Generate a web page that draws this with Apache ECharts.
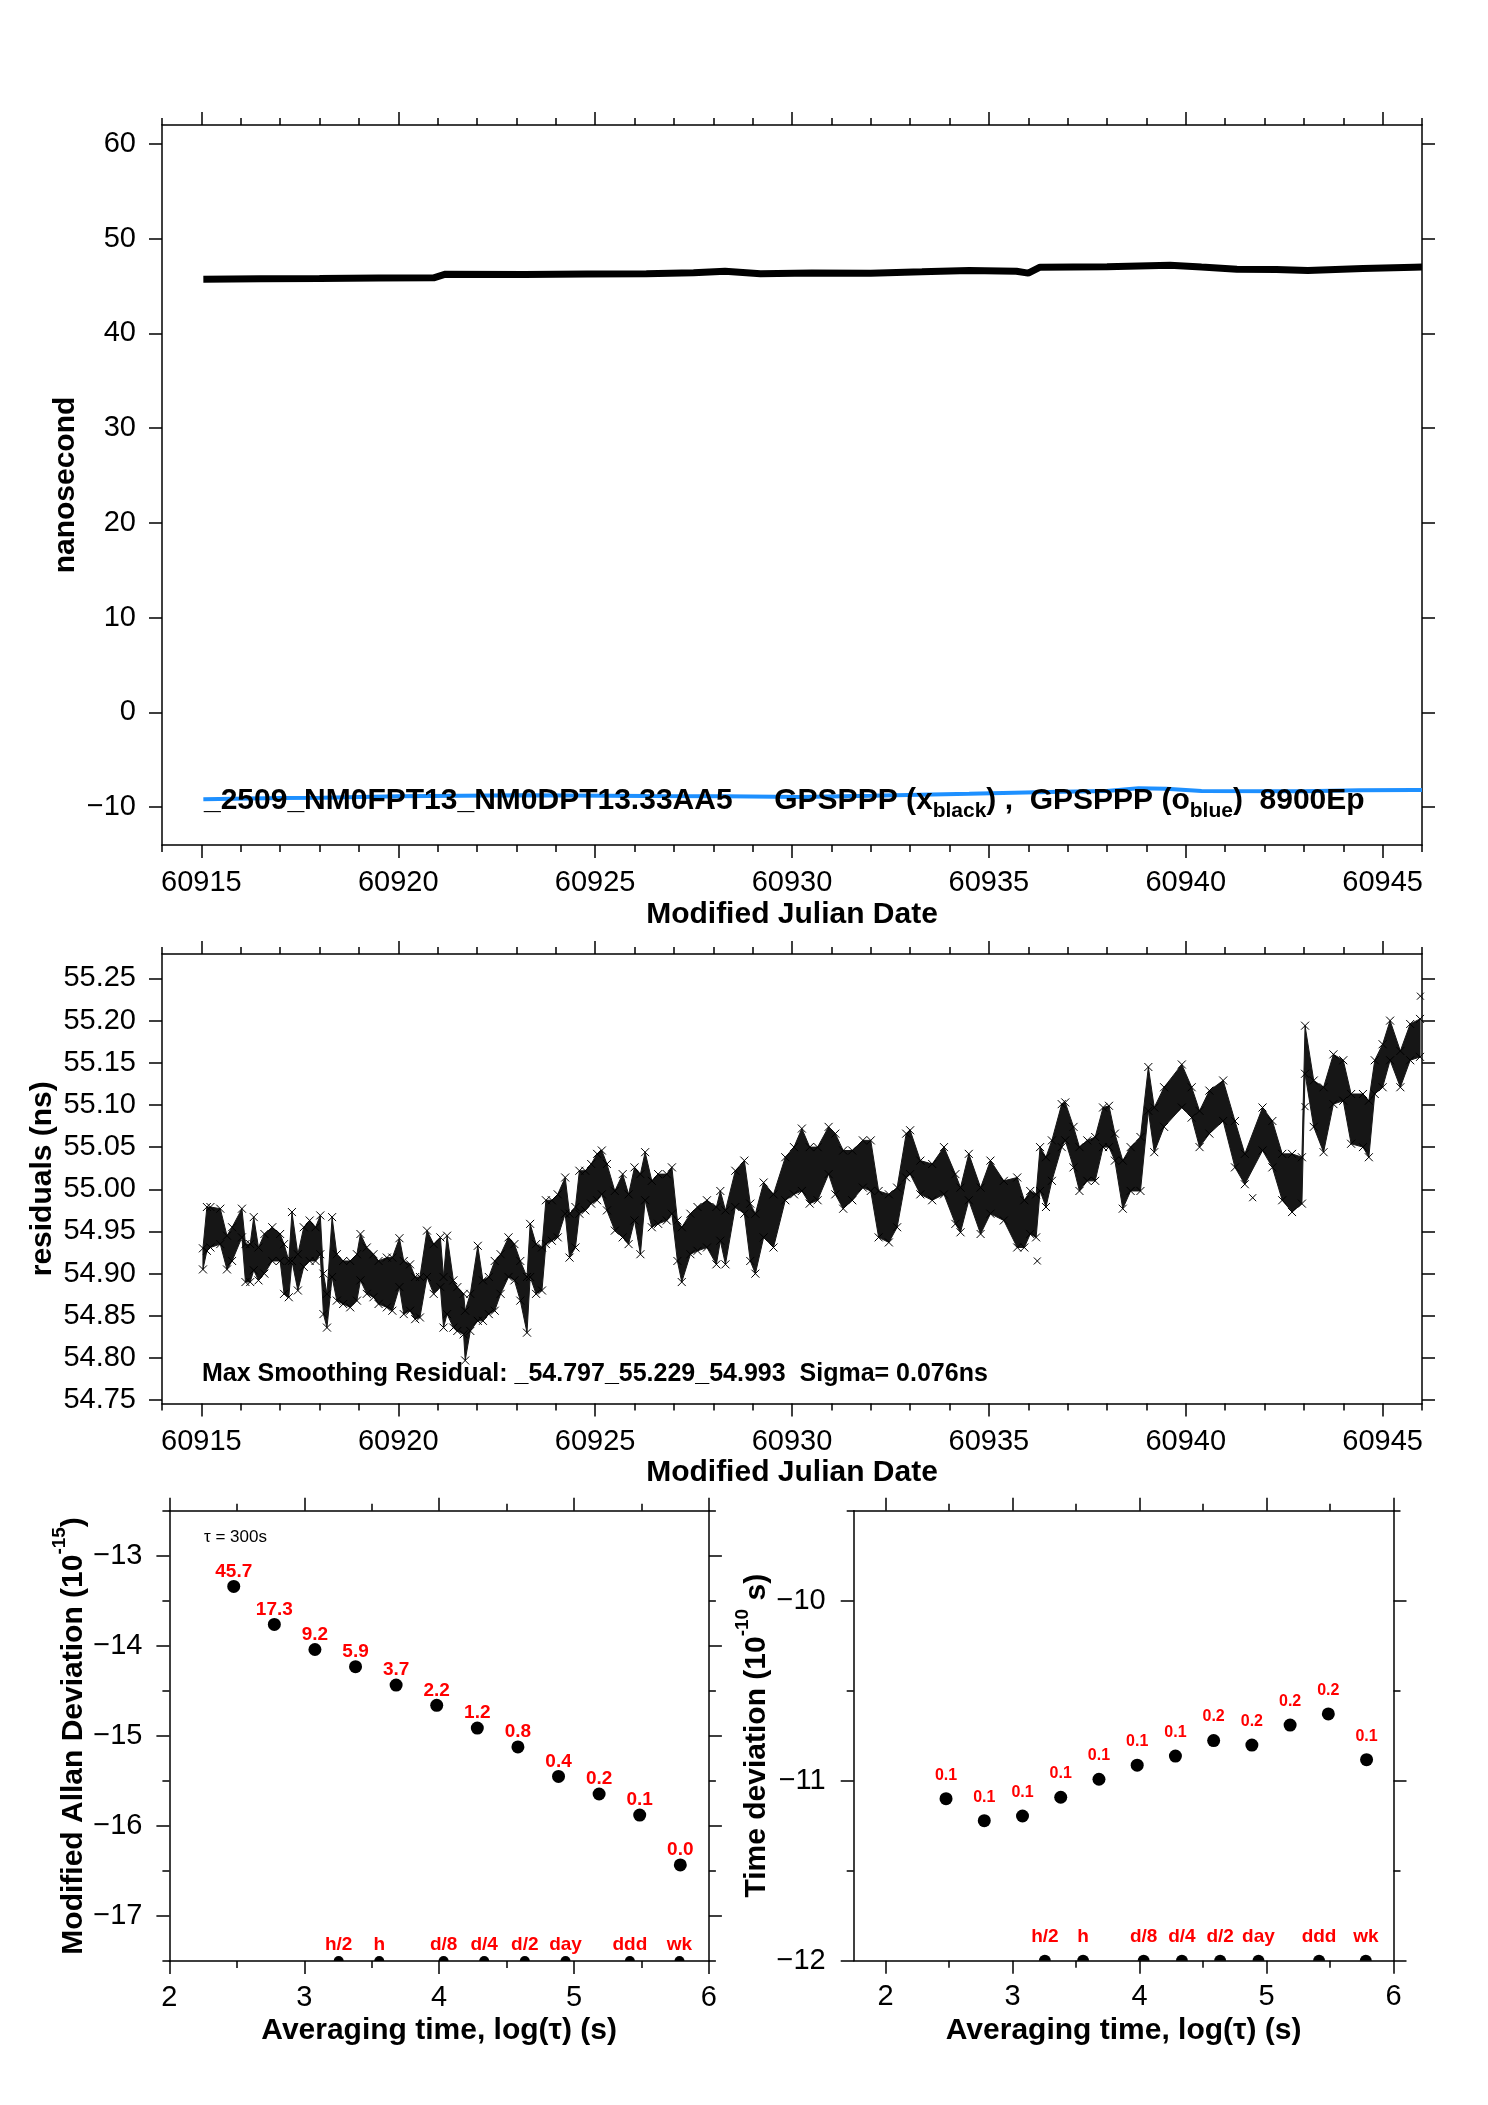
<!DOCTYPE html>
<html><head><meta charset="utf-8">
<script src="https://cdn.jsdelivr.net/npm/echarts@6/dist/echarts.min.js"></script>
<style>html,body{margin:0;padding:0;background:#fff}#c{width:1488px;height:2105px}</style>
</head><body><div id="c"></div>
<script>
const FONT = "'Liberation Sans', Helvetica, Arial, sans-serif";

// ---------- top panel: phase (ns) ----------
const blackMJD = [60915.05,60916.5,60918.0,60919.5,60920.9,60921.2,60923.2,60924.8,60926.3,60927.5,60928.3,60929.2,60930.5,60932.0,60933.3,60934.5,60935.7,60936.0,60936.3,60938.0,60939.6,60940.4,60941.3,60942.3,60943.1,60944.5,60945.8,60946.0];
const blackNs  = [45.72,45.76,45.80,45.85,45.87,46.25,46.22,46.27,46.29,46.40,46.57,46.29,46.38,46.36,46.50,46.64,46.57,46.36,46.99,47.05,47.20,47.00,46.78,46.75,46.64,46.85,46.99,47.00];
const blueMJD = [60915.05,60917.0,60918.1,60920.0,60923.2,60926.3,60928.3,60930.2,60932.0,60934.5,60936.5,60938.0,60938.8,60939.5,60940.4,60943.0,60944.4,60945.8,60946.0];
const blueNs  = [-9.18,-9.05,-9.00,-8.85,-8.76,-8.83,-8.85,-8.93,-8.80,-8.58,-8.40,-8.30,-8.00,-8.05,-8.30,-8.33,-8.23,-8.20,-8.20];
const topYTicks = [-10,0,10,20,30,40,50,60];
const mjdTicks = [60915,60920,60925,60930,60935,60940,60945];
const mjdMinorTicks = [60914,60916,60917,60918,60919,60921,60922,60923,60924,60926,60927,60928,60929,60931,60932,60933,60934,60936,60937,60938,60939,60941,60942,60943,60944,60946];

// ---------- middle panel: residuals (ns), band extent ----------
const resMJD = [
60915.04,60915.14,60915.23,60915.48,60915.65,60915.78,60916.03,60916.12,60916.24,60916.33,
60916.45,60916.60,60916.80,60917.00,60917.10,60917.22,60917.30,60917.45,60917.60,60917.75,
60917.90,60918.02,60918.10,60918.19,60918.32,60918.44,60918.60,60918.78,60918.95,60919.04,
60919.20,60919.37,60919.50,60919.71,60919.85,60920.03,60920.14,60920.30,60920.43,60920.55,
60920.73,60920.90,60921.07,60921.15,60921.24,60921.40,60921.50,60921.66,60921.70,60921.83,
60922.02,60922.15,60922.30,60922.45,60922.60,60922.80,60922.95,60923.10,60923.27,60923.35,
60923.50,60923.65,60923.75,60923.90,60924.05,60924.24,60924.35,60924.50,60924.60,60924.75,
60924.90,60925.05,60925.17,60925.30,60925.50,60925.70,60925.85,60926.00,60926.15,60926.27,
60926.44,60926.60,60926.82,60926.95,60927.09,60927.20,60927.42,60927.60,60927.84,60928.08,
60928.18,60928.31,60928.56,60928.79,60928.94,60929.07,60929.28,60929.53,60929.83,60930.05,
60930.25,60930.45,60930.65,60930.93,60931.10,60931.30,60931.53,60931.80,60932.00,60932.20,
60932.46,60932.67,60932.90,60933.00,60933.26,60933.56,60933.86,60934.15,60934.28,60934.49,
60934.79,60935.04,60935.38,60935.72,60935.90,60936.05,60936.20,60936.30,60936.45,60936.60,
60936.85,60936.94,60937.15,60937.30,60937.50,60937.70,60937.90,60938.05,60938.20,60938.40,
60938.60,60938.85,60939.05,60939.20,60939.45,60939.90,60940.15,60940.35,60940.60,60940.95,
60941.25,60941.50,60941.95,60942.20,60942.45,60942.70,60942.95,60943.03,60943.25,60943.50,
60943.75,60944.00,60944.20,60944.50,60944.65,60944.80,60945.00,60945.19,60945.45,60945.70,
60945.95];
const resLow = [
54.905,54.927,54.931,54.935,54.905,54.915,54.943,54.890,54.890,54.904,
54.892,54.900,54.915,54.915,54.876,54.872,54.915,54.880,54.908,54.915,
54.915,54.923,54.852,54.836,54.896,54.868,54.864,54.860,54.868,54.892,
54.876,54.872,54.864,54.860,54.856,54.884,54.852,54.856,54.846,54.848,
54.896,54.876,54.884,54.836,54.852,54.836,54.832,54.828,54.797,54.832,
54.844,54.844,54.852,54.856,54.876,54.896,54.892,54.868,54.830,54.896,
54.876,54.880,54.935,54.939,54.943,54.971,54.919,54.931,54.971,54.975,
54.983,54.987,54.994,54.975,54.951,54.943,54.935,54.963,54.923,54.987,
54.955,54.959,54.963,54.971,54.915,54.890,54.923,54.927,54.931,54.911,
54.939,54.911,54.979,54.971,54.915,54.900,54.943,54.931,54.987,54.994,
54.998,54.983,54.987,55.018,54.994,54.977,54.987,55.002,54.998,54.943,
54.937,54.955,55.014,55.018,54.994,54.987,54.994,54.959,54.949,54.987,
54.947,54.971,54.963,54.931,54.931,54.947,54.943,54.998,54.979,55.010,
55.050,55.058,55.026,54.998,55.010,55.010,55.050,55.050,55.034,54.977,
54.998,54.998,55.093,55.044,55.074,55.097,55.085,55.050,55.066,55.081,
55.026,55.006,55.046,55.026,54.987,54.973,54.983,55.137,55.074,55.044,
55.101,55.105,55.054,55.050,55.038,55.113,55.121,55.153,55.121,55.153,
55.157];
const resHigh = [
54.930,54.979,54.979,54.977,54.945,54.955,54.977,54.935,54.935,54.967,
54.931,54.947,54.955,54.947,54.935,54.915,54.973,54.923,54.955,54.963,
54.955,54.969,54.900,54.876,54.967,54.923,54.915,54.915,54.923,54.947,
54.931,54.923,54.915,54.919,54.919,54.942,54.915,54.911,54.896,54.896,
54.951,54.935,54.943,54.896,54.945,54.892,54.884,54.876,54.856,54.876,
54.933,54.892,54.896,54.915,54.923,54.943,54.935,54.915,54.896,54.959,
54.935,54.931,54.987,54.987,54.994,55.014,54.971,54.979,55.022,55.022,
55.030,55.042,55.046,55.030,54.998,55.018,54.994,55.026,55.018,55.044,
55.010,55.018,55.018,55.026,54.963,54.955,54.971,54.979,54.987,54.979,
54.998,54.975,55.022,55.034,54.983,54.971,55.008,54.994,55.038,55.050,
55.072,55.050,55.050,55.074,55.066,55.046,55.046,55.058,55.058,54.998,
54.994,55.002,55.066,55.070,55.034,55.030,55.050,55.018,55.002,55.042,
55.002,55.034,55.010,55.014,54.987,54.998,54.994,55.050,55.038,55.058,
55.101,55.103,55.074,55.050,55.058,55.062,55.097,55.099,55.066,55.034,
55.050,55.062,55.145,55.097,55.121,55.148,55.121,55.093,55.117,55.129,
55.081,55.042,55.097,55.081,55.042,55.042,55.038,55.194,55.129,55.121,
55.160,55.153,55.113,55.113,55.105,55.153,55.172,55.200,55.164,55.196,
55.202];
const resOutMJD = [60936.23,60941.70,60943.03,60945.96];
const resOutNs  = [54.915,54.990,55.098,55.229];
const resYTicks = [54.75,54.80,54.85,54.90,54.95,55.00,55.05,55.10,55.15,55.20,55.25];

// ---------- bottom panels ----------
const logTau  = [2.477,2.778,3.079,3.380,3.681,3.982,4.283,4.584,4.885,5.186,5.487,5.788];
const mdevLog = [-13.341,-13.762,-14.041,-14.231,-14.436,-14.661,-14.913,-15.122,-15.450,-15.645,-15.879,-16.432];
const mdevText = ['45.7','17.3','9.2','5.9','3.7','2.2','1.2','0.8','0.4','0.2','0.1','0.0'];
const tdevLog = [-11.100,-11.222,-11.196,-11.092,-10.992,-10.914,-10.863,-10.777,-10.802,-10.691,-10.629,-10.883];
const tdevText = ['0.1','0.1','0.1','0.1','0.1','0.1','0.1','0.2','0.2','0.2','0.2','0.1'];
const refLogTau = [3.255,3.556,4.033,4.334,4.635,4.937,5.414,5.782];
const refText = ['h/2','h','d/8','d/4','d/2','day','ddd','wk'];
const logTicks = [2,3,4,5,6];
const logMinorTicks = [2.5,3.5,4.5,5.5];
const mdevYTicks = [-17,-16,-15,-14,-13];
const mdevYMinorTicks = [-17.5,-16.5,-15.5,-14.5,-13.5,-12.5];
const tdevYTicks = [-12,-11,-10];
const tdevYMinorTicks = [-11.5,-10.5,-9.5];

// ---------- helpers ----------
const LINE = {color:'#000', width:1.5};
function minus(v){ return v < 0 ? '\u2212' + String(-v) : String(v); }
const xAxes = [], yAxes = [];
const nameStyle = {color:'#000', fontFamily:FONT, fontSize:30, fontWeight:'bold'};
function supRich(){
  return {
    n:{fontSize:30, fontWeight:'bold', fontFamily:FONT, color:'#000', verticalAlign:'top', padding:[8,0,0,0]},
    sup:{fontSize:19, fontWeight:'bold', fontFamily:FONT, color:'#000', verticalAlign:'top'}
  };
}
function addX(grid, min, max, major, minor, fmt, name, nameGap, margin){
  const base = {type:'value', gridIndex:grid, min:min, max:max, splitLine:{show:false}, silent:true, nameMoveOverlap:false};
  const idx = xAxes.length;
  xAxes.push(Object.assign({}, base, {position:'bottom',
    axisLine:{show:true, onZero:false, lineStyle:LINE},
    axisTick:{show:true, length:13, customValues:major, lineStyle:LINE},
    axisLabel:{show:true, customValues:major, formatter:fmt, margin:margin, fontSize:29, color:'#000', fontFamily:FONT},
    name:name, nameLocation:'middle', nameGap:nameGap, nameTextStyle:nameStyle}));
  xAxes.push(Object.assign({}, base, {position:'top',
    axisLine:{show:true, onZero:false, lineStyle:LINE},
    axisTick:{show:true, length:13, customValues:major, lineStyle:LINE}, axisLabel:{show:false}}));
  xAxes.push(Object.assign({}, base, {position:'bottom',
    axisLine:{show:false, onZero:false},
    axisTick:{show:true, length:7, customValues:minor, lineStyle:LINE}, axisLabel:{show:false}}));
  xAxes.push(Object.assign({}, base, {position:'top',
    axisLine:{show:false, onZero:false},
    axisTick:{show:true, length:7, customValues:minor, lineStyle:LINE}, axisLabel:{show:false}}));
  return idx;
}
function addY(grid, min, max, major, minor, fmt, name, nameGap, margin, nameTS){
  const base = {type:'value', gridIndex:grid, min:min, max:max, splitLine:{show:false}, silent:true, nameMoveOverlap:false};
  const idx = yAxes.length;
  yAxes.push(Object.assign({}, base, {position:'left',
    axisLine:{show:true, onZero:false, lineStyle:LINE},
    axisTick:{show:true, length:13, customValues:major, lineStyle:LINE},
    axisLabel:{show:true, customValues:major, formatter:fmt, margin:margin, fontSize:29, color:'#000', fontFamily:FONT},
    name:name, nameLocation:'middle', nameGap:nameGap, nameTextStyle:nameTS || nameStyle}));
  yAxes.push(Object.assign({}, base, {position:'right',
    axisLine:{show:true, onZero:false, lineStyle:LINE},
    axisTick:{show:true, length:13, customValues:major, lineStyle:LINE}, axisLabel:{show:false}}));
  if (minor) {
    yAxes.push(Object.assign({}, base, {position:'left',
      axisLine:{show:false, onZero:false},
      axisTick:{show:true, length:7, customValues:minor, lineStyle:LINE}, axisLabel:{show:false}}));
    yAxes.push(Object.assign({}, base, {position:'right',
      axisLine:{show:false, onZero:false},
      axisTick:{show:true, length:7, customValues:minor, lineStyle:LINE}, axisLabel:{show:false}}));
  }
  return idx;
}

const X0 = addX(0, 60914, 60946, mjdTicks, mjdMinorTicks, v => String(v), 'Modified Julian Date', 55, 23);
const Y0 = addY(0, -14, 62, topYTicks, null, minus, 'nanosecond', 81, 26);
const X1 = addX(1, 60914, 60946, mjdTicks, mjdMinorTicks, v => String(v), 'Modified Julian Date', 54, 24);
const Y1 = addY(1, 54.746, 55.279, resYTicks, null, v => v.toFixed(2), 'residuals (ns)', 104, 26);
const X2 = addX(2, 2, 6, logTicks, logMinorTicks, v => String(v), 'Averaging time, log(\u03c4) (s)', 55, 22);
const Y2 = addY(2, -17.5, -12.5, mdevYTicks, mdevYMinorTicks, minus, '{n|Modified Allan Deviation (10}{sup|-15}{n|)}', 81, 27,
  Object.assign({}, nameStyle, {rich: supRich()}));
const X3 = addX(3, 1.75, 6, logTicks, logMinorTicks, v => String(v), 'Averaging time, log(\u03c4) (s)', 55, 22);
const Y3 = addY(3, -12, -9.5, tdevYTicks, tdevYMinorTicks, minus, '{n|Time deviation (10}{sup|-10}{n| s)}', 82, 28,
  Object.assign({}, nameStyle, {rich: supRich()}));

const XSYM = 'path://M0,0L10,10M10,0L0,10';
const HALF = 'path://M0,10A10,10,0,0,1,20,10Z';
const red = '#ff0000';
const dotStyle = {color:'#000', opacity:1};

const series = [
  {type:'line', xAxisIndex:X0, yAxisIndex:Y0, data:blackMJD.map((d,i)=>[d,blackNs[i]]), symbol:'none',
   lineStyle:{color:'#000', width:7, opacity:1}, silent:true, z:3},
  {type:'line', xAxisIndex:X0, yAxisIndex:Y0, data:blueMJD.map((d,i)=>[d,blueNs[i]]), symbol:'none',
   lineStyle:{color:'#1e90ff', width:4, opacity:1}, silent:true, z:3},
  {type:'custom', xAxisIndex:X1, yAxisIndex:Y1, data:resMJD.map((d,i)=>[d,resLow[i],resHigh[i]]),
   encode:{x:0, y:[1,2]}, silent:true, z:2,
   renderItem:function(params, api){
     if (params.dataIndex !== 0) return null;
     const pts = [];
     for (let i = 0; i < resMJD.length; i++) pts.push(api.coord([resMJD[i], resHigh[i]]));
     for (let i = resMJD.length - 1; i >= 0; i--) pts.push(api.coord([resMJD[i], resLow[i]]));
     return {type:'polygon', shape:{points:pts}, style:{fill:'#161616', stroke:'#161616', lineWidth:1}};
   }},
  {type:'scatter', xAxisIndex:X1, yAxisIndex:Y1, data:resMJD.map((d,i)=>[d,resHigh[i]]), symbol:XSYM, symbolSize:8,
   itemStyle:{color:'transparent', borderColor:'#000', borderWidth:1, opacity:1}, silent:true, z:3},
  {type:'scatter', xAxisIndex:X1, yAxisIndex:Y1, data:resMJD.map((d,i)=>[d,resLow[i]]), symbol:XSYM, symbolSize:8,
   itemStyle:{color:'transparent', borderColor:'#000', borderWidth:1, opacity:1}, silent:true, z:3},
  {type:'scatter', xAxisIndex:X1, yAxisIndex:Y1, data:resOutMJD.map((d,i)=>[d,resOutNs[i]]), symbol:XSYM, symbolSize:7,
   itemStyle:{color:'transparent', borderColor:'#000', borderWidth:1, opacity:1}, silent:true, z:3},

  {type:'scatter', xAxisIndex:X2, yAxisIndex:Y2, data:logTau.map((d,i)=>[d,mdevLog[i]]), symbol:'circle', symbolSize:13,
   itemStyle:dotStyle, silent:true,
   label:{show:true, position:'top', distance:-1, formatter:p=>mdevText[p.dataIndex], color:red, opacity:1, fontSize:19, fontWeight:'bold', fontFamily:FONT}},
  {type:'scatter', xAxisIndex:X2, yAxisIndex:Y2, data:refLogTau.map(d=>[d,-17.5]), symbol:HALF, symbolSize:[10,5], symbolOffset:[0,'-50%'],
   itemStyle:dotStyle, clip:false, silent:true},
  {type:'scatter', xAxisIndex:X2, yAxisIndex:Y2, data:refLogTau.map(d=>[d,-17.5]), symbolSize:1, itemStyle:{color:'transparent', opacity:1}, clip:false, silent:true,
   label:{show:true, position:'top', distance:6, formatter:p=>refText[p.dataIndex], color:red, opacity:1, fontSize:19, fontWeight:'bold', fontFamily:FONT}},

  {type:'scatter', xAxisIndex:X3, yAxisIndex:Y3, data:logTau.map((d,i)=>[d,tdevLog[i]]), symbol:'circle', symbolSize:13,
   itemStyle:dotStyle, silent:true,
   label:{show:true, position:'top', distance:9, formatter:p=>tdevText[p.dataIndex], color:red, opacity:1, fontSize:16, fontWeight:'bold', fontFamily:FONT}},
  {type:'scatter', xAxisIndex:X3, yAxisIndex:Y3, data:refLogTau.map(d=>[d,-12]), symbol:HALF, symbolSize:[12,6], symbolOffset:[0,'-50%'],
   itemStyle:dotStyle, clip:false, silent:true},
  {type:'scatter', xAxisIndex:X3, yAxisIndex:Y3, data:refLogTau.map(d=>[d,-12]), symbolSize:1, itemStyle:{color:'transparent', opacity:1}, clip:false, silent:true,
   label:{show:true, position:'top', distance:14, formatter:p=>refText[p.dataIndex], color:red, opacity:1, fontSize:19, fontWeight:'bold', fontFamily:FONT}}
];

const graphic = [
  {type:'text', x:204, y:786, z:100, silent:true, style:{
    text:'{m|_2509_NM0FPT13_NM0DPT13.33AA5     GPSPPP (x}{s|black}{m|) ,  GPSPPP (o}{s|blue}{m|)  8900Ep}',
    align:'left', verticalAlign:'top',
    rich:{
      m:{fontSize:30, fontWeight:'bold', fontFamily:FONT, fill:'#000', color:'#000', verticalAlign:'bottom', padding:[0,0,6,0]},
      s:{fontSize:21, fontWeight:'bold', fontFamily:FONT, fill:'#000', color:'#000', verticalAlign:'bottom'}
    }}},
  {type:'text', x:202, y:1374, z:100, silent:true, style:{
    text:'Max Smoothing Residual: _54.797_55.229_54.993  Sigma= 0.076ns',
    fontSize:25, fontWeight:'bold', fontFamily:FONT, fill:'#000', align:'left', verticalAlign:'middle'}},
  {type:'text', x:204, y:1537, z:100, silent:true, style:{
    text:'\u03c4 = 300s', fontSize:17, fontFamily:FONT, fill:'#000', align:'left', verticalAlign:'middle'}}
];

const chart = echarts.init(document.getElementById('c'), null, {renderer:'canvas'});
chart.setOption({
  animation:false,
  backgroundColor:'#fff',
  textStyle:{fontFamily:FONT},
  grid:[
    {left:162, top:125, width:1260, height:720, outerBoundsMode:'none'},
    {left:162, top:954, width:1260, height:449.5, outerBoundsMode:'none'},
    {left:169.4, top:1510.7, width:539.5, height:450.4, outerBoundsMode:'none'},
    {left:853.7, top:1510.7, width:539.8, height:450, outerBoundsMode:'none'}
  ],
  xAxis:xAxes, yAxis:yAxes, series:series, graphic:graphic
});
</script></body></html>
